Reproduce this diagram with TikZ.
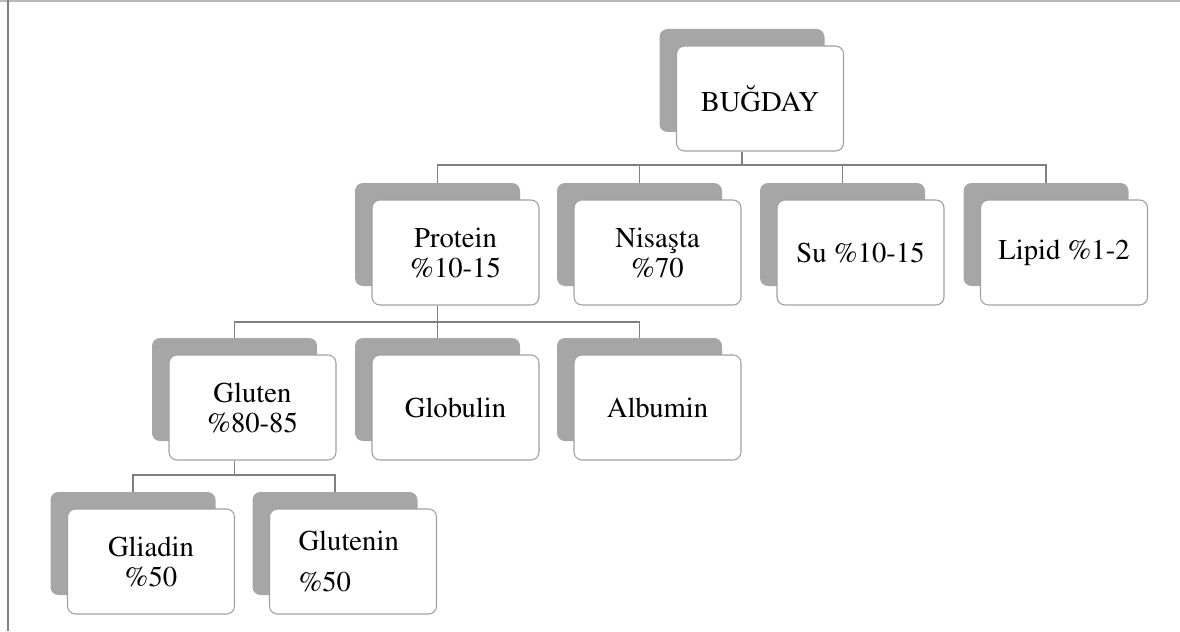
\documentclass[tikz,border=0pt]{standalone}
\usepackage[T1]{fontenc}
\usepackage{mathptmx}
\usepackage{tikz}

\definecolor{backgray}{RGB}{166,166,166}
\definecolor{edgegray}{RGB}{160,160,160}
\definecolor{linegray}{RGB}{128,128,128}

\begin{document}
\begin{tikzpicture}[x=0.75pt, y=-0.75pt,
    back/.style={fill=backgray, rounded corners=6pt, minimum width=123.75pt, minimum height=77.25pt, inner sep=0pt},
    box/.style={draw=edgegray, fill=white, line width=0.8pt, rounded corners=6pt, minimum width=125.25pt, minimum height=78.75pt, inner sep=0pt, align=center, font=\fontsize{21.5}{22.5}\selectfont},
    conn/.style={draw=linegray, line width=0.9pt}]

    % Frame
    \useasboundingbox (0,0) rectangle (1180,631);
    \draw[backgray!80!white, line width=1.5pt] (0,1) -- (1180,1);
    \draw[linegray, line width=1.5pt] (8,0) -- (8,631);

    % Bus lines
    \coordinate (busA) at (0,165);
    \coordinate (busB) at (0,322);
    \coordinate (busC) at (0,475);

    % Back plates
    \node[back] (bugS) at (742,80.5) {};
    \node[back] (protS) at (437.5,234.5) {};
    \node[back] (nisS) at (639.5,234.5) {};
    \node[back] (suS) at (842.5,234.5) {};
    \node[back] (lipS) at (1046,234.5) {};
    \node[back] (glutS) at (234.5,389.5) {};
    \node[back] (globS) at (437.5,389.5) {};
    \node[back] (albS) at (639.5,389.5) {};
    \node[back] (gliS) at (133,543.5) {};
    \node[back] (glunS) at (335,543.5) {};

    % Front boxes
    \node[box] (bug) at ([shift={(18,18)}]bugS) {BU\u{G}DAY};
    \node[box] (prot) at ([shift={(18,18)}]protS) {Protein\\\%10-15};
    \node[box] (nis) at ([shift={(18,18)}]nisS) {Nisa\c{s}ta\\\%70};
    \node[box] (su) at ([shift={(18,18)}]suS) {Su \%10-15};
    \node[box] (lip) at ([shift={(18,18)}]lipS) {Lipid \%1-2};
    \node[box] (glut) at ([shift={(18,18)}]glutS) {Gluten\\\%80-85};
    \node[box] (glob) at ([shift={(18,18)}]globS) {Globulin};
    \node[box] (alb) at ([shift={(18,18)}]albS) {Albumin};
    \node[box] (gli) at ([shift={(18,18)}]gliS) {Gliadin\\\%50};
    \node[box, align=left, inner xsep=21.75pt, text width=81.75pt] (glun) at ([shift={(18,18)}]glunS) {Glutenin\\[8pt]\%50};

    % Connectors
    \draw[conn] (bugS |- bug.south) -- (bugS |- busA) -| (protS.north);
    \draw[conn] (bugS |- busA) -| (nisS.north);
    \draw[conn] (bugS |- busA) -| (suS.north);
    \draw[conn] (bugS |- busA) -| (lipS.north);
    \draw[conn] (protS |- prot.south) -- (protS |- busB) -| (glutS.north);
    \draw[conn] (protS |- busB) -| (globS.north);
    \draw[conn] (protS |- busB) -| (albS.north);
    \draw[conn] (glutS |- glut.south) -- (glutS |- busC) -| (gliS.north);
    \draw[conn] (glutS |- busC) -| (glunS.north);
\end{tikzpicture}
\end{document}
